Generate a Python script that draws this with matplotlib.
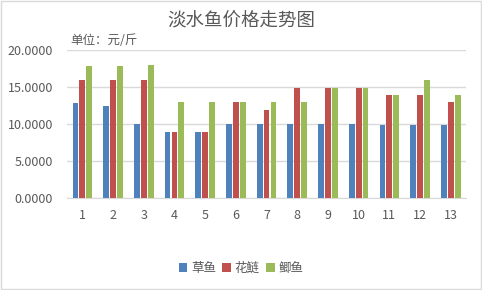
import numpy as np
import matplotlib.pyplot as plt
from matplotlib.patches import Rectangle

plt.rcParams['font.family'] = ['Noto Sans CJK SC', 'DejaVu Sans']

# 淡水鱼价格 (元/斤)
weeks = ["1", "2", "3", "4", "5", "6", "7", "8", "9", "10", "11", "12", "13"]
caoyu = [12.9, 12.5, 10.0, 8.9, 8.9, 10.0, 10.0, 10.0, 10.0, 10.0, 9.9, 9.9, 9.9]
hualian = [16.0, 16.0, 16.0, 8.9, 8.9, 13.0, 11.9, 14.9, 14.9, 14.9, 14.0, 14.0, 13.0]
jiyu = [17.9, 17.9, 18.0, 13.0, 13.0, 13.0, 13.0, 13.0, 14.9, 14.9, 14.0, 16.0, 14.0]
names = ["草鱼", "花鲢", "鲫鱼"]
colors = ["#4F81BD", "#C0504D", "#9BBB59"]
text_color = "#595959"

fig = plt.figure(figsize=(4.82, 2.90), dpi=100)
ax = fig.add_axes([0.139, 0.317, 0.828, 0.509])

x = np.arange(len(weeks))
w = 0.19
step = 0.225
for i, (vals, name, c) in enumerate(zip([caoyu, hualian, jiyu], names, colors)):
    ax.bar(x + (i - 1) * step, vals, width=w, color=c, label=name, zorder=3)

ax.set_xlim(-0.5, len(weeks) - 0.5)
ax.set_ylim(0, 20)
ax.set_yticks(np.arange(0, 20.01, 5))
ax.set_yticklabels([f"{v:.4f}" for v in np.arange(0, 20.01, 5)])
ax.set_xticks(x)
ax.set_xticklabels(weeks)
ax.tick_params(axis='both', length=0, labelsize=9, colors=text_color)
ax.tick_params(axis='y', pad=10)
ax.tick_params(axis='x', pad=8)
ax.grid(axis='y', color='#D9D9D9', linewidth=1, zorder=0)
for s in ['top', 'right', 'left']:
    ax.spines[s].set_visible(False)
ax.spines['bottom'].set_color('#D9D9D9')

fig.text(0.5, 0.925, "淡水鱼价格走势图", ha='center', va='center', fontsize=13.3, color=text_color)
fig.text(0.145, 0.862, "单位：元/斤", ha='left', va='center', fontsize=9, color=text_color)

fig.legend(loc='center', bbox_to_anchor=(0.5, 0.075), ncol=3, frameon=False, fontsize=9,
           handlelength=0.7, handleheight=0.7, handletextpad=0.3, columnspacing=0.5,
           labelcolor=text_color)

fig.patches.append(Rectangle((0.002, 0.003), 0.995, 0.993, transform=fig.transFigure,
                             fill=False, edgecolor='#D9D9D9', linewidth=1))

fig.savefig("out.png", dpi=100)
